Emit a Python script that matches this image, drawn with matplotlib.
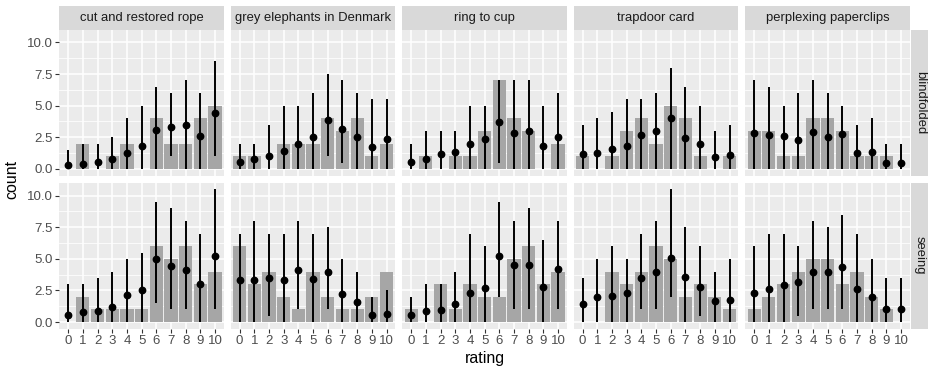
import matplotlib
matplotlib.use("Agg")
import matplotlib.pyplot as plt
import numpy as np

plt.rcParams["font.family"] = ["Liberation Sans", "DejaVu Sans"]

# ---------------------------------------------------------------------------
# Données
# ---------------------------------------------------------------------------
tricks = ["cut and restored rope", "grey elephants in Denmark", "ring to cup",
          "trapdoor card", "perplexing paperclips"]
conditions = ["blindfolded", "seeing"]
ratings = list(range(11))

# comptes observés (barres)
count_blind = [
    [0, 2, 0, 1, 2, 0, 4, 2, 2, 4, 5],
    [1, 1, 0, 2, 2, 2, 4, 3, 4, 1, 2],
    [0, 1, 0, 1, 1, 3, 7, 4, 3, 0, 2],
    [1, 0, 1, 3, 4, 2, 5, 4, 1, 0, 1],
    [3, 3, 1, 1, 4, 4, 3, 1, 1, 1, 0],
]
count_seeing = [
    [0, 2, 1, 1, 1, 1, 6, 5, 6, 3, 4],
    [6, 3, 4, 2, 1, 4, 2, 1, 1, 2, 4],
    [1, 0, 3, 1, 3, 2, 2, 5, 6, 3, 4],
    [0, 0, 4, 3, 4, 6, 5, 2, 3, 2, 1],
    [1, 2, 3, 4, 5, 5, 3, 4, 2, 1, 0],
]

# prédictions (points) et intervalles
mean_blind = [
    [0.27, 0.40, 0.53, 0.80, 1.28, 1.82, 3.09, 3.28, 3.44, 2.59, 4.40],
    [0.56, 0.75, 1.01, 1.39, 2.00, 2.53, 3.87, 3.15, 2.56, 1.73, 2.35],
    [0.51, 0.75, 1.17, 1.31, 1.97, 2.40, 3.68, 2.85, 2.96, 1.81, 2.53],
    [1.20, 1.25, 1.55, 1.84, 2.69, 2.99, 4.00, 2.45, 2.00, 0.96, 1.12],
    [2.85, 2.64, 2.59, 2.27, 2.93, 2.51, 2.72, 1.28, 1.33, 0.45, 0.48],
]
lo_blind = [
    [0, 0, 0, 0, 0, 0, 0, 1, 0, 0, 1],
    [0, 0, 0, 0, 0, 0, 1, 0.5, 0, 0, 0],
    [0, 0, 0, 0, 0, 0, 0.5, 0, 0, 0, 0],
    [0, 0, 0, 0, 0, 0, 0, 0, 0, 0, 0],
    [0, 0, 0, 0, 0, 0, 0, 0, 0, 0, 0],
]
hi_blind = [
    [1.5, 2, 2, 2.5, 4, 5, 6.5, 6, 7, 6, 8.5],
    [2, 2, 3.5, 5, 5, 6, 7.5, 7, 6, 5.5, 5.5],
    [2, 3, 3, 3, 5, 5, 7, 7, 7, 5, 6],
    [3.5, 4, 4.5, 5.5, 5.5, 6, 8, 6.5, 5, 3, 3.5],
    [7, 6.5, 5, 6, 7, 6, 5, 3.5, 4, 2, 2],
]
mean_seeing = [
    [0.56, 0.82, 0.88, 1.19, 2.18, 2.57, 4.99, 4.43, 4.11, 3.00, 5.20],
    [3.32, 3.36, 3.50, 3.35, 4.14, 3.42, 3.93, 2.20, 1.59, 0.55, 0.62],
    [0.53, 0.88, 0.93, 1.46, 2.31, 2.68, 5.25, 4.51, 4.51, 2.76, 4.16],
    [1.41, 2.02, 2.10, 2.31, 3.45, 4.00, 5.10, 3.53, 2.79, 1.65, 1.73],
    [2.31, 2.60, 2.90, 3.16, 3.95, 3.95, 4.38, 2.65, 1.96, 1.06, 1.06],
]
lo_seeing = [
    [0, 0, 0, 0, 0, 0, 1.5, 1, 1, 0, 1],
    [0, 0, 0.5, 0, 1, 0, 1, 0, 0, 0, 0],
    [0, 0, 0, 0, 0, 0, 2, 1, 1, 0, 1],
    [0, 0, 0, 0, 1, 1, 2, 0, 0.5, 0, 0],
    [0, 0, 0, 0.5, 1, 1, 1, 0, 0, 0, 0],
]
hi_seeing = [
    [3, 3, 3.5, 4, 5, 5.5, 9.5, 9, 8, 7, 10.5],
    [7, 8, 7, 7, 8, 7, 7.5, 5, 4, 2, 2.5],
    [2, 3, 3, 4, 7, 6, 9.5, 8, 9, 6.5, 8],
    [3.5, 5, 6, 5, 7, 8, 10.5, 7.5, 6, 4, 5],
    [6, 7, 7, 6, 8, 7.5, 8.5, 7, 5, 3.5, 3.5],
]

# ---------------------------------------------------------------------------
# Mise en page (pixels -> fraction de figure)
# ---------------------------------------------------------------------------
W, H = 929, 369
PANEL_X0, PANEL_W, GAP_X = 59.3, 164.6, 6.9
ROW_Y = [29.5, 182.7]
PANEL_H = 146.0
STRIP_H = 24.0
STRIP_W = 19.0

PANEL_BG = "#EBEBEB"
STRIP_BG = "#D9D9D9"
BAR_COL = "#A6A6A6"
TXT = "#1A1A1A"
TICK_TXT = "#4D4D4D"


def frac(x, y, w, h):
    return [x / W, 1 - (y + h) / H, w / W, h / H]


ymax = max(max(max(r) for r in hi_blind), max(max(r) for r in hi_seeing))
ylim = (-0.05 * ymax, ymax * 1.05)

fig = plt.figure(figsize=(W / 100, H / 100), dpi=100)

data = {
    "blindfolded": (count_blind, mean_blind, lo_blind, hi_blind),
    "seeing": (count_seeing, mean_seeing, lo_seeing, hi_seeing),
}

for r, cond in enumerate(conditions):
    counts, means, los, his = data[cond]
    for c, trick in enumerate(tricks):
        x0 = PANEL_X0 + c * (PANEL_W + GAP_X)
        ax = fig.add_axes(frac(x0, ROW_Y[r], PANEL_W, PANEL_H))
        ax.set_facecolor(PANEL_BG)
        for s in ax.spines.values():
            s.set_visible(False)

        ax.set_xlim(-0.6, 10.6)
        ax.set_ylim(*ylim)
        ax.set_xticks(ratings)
        ax.set_yticks([0, 2.5, 5, 7.5, 10])
        ax.set_yticks([1.25, 3.75, 6.25, 8.75], minor=True)
        ax.grid(True, which="major", color="white", linewidth=1.1)
        ax.grid(True, which="minor", axis="y", color="white", linewidth=0.55)
        ax.set_axisbelow(True)
        ax.tick_params(which="minor", length=0)
        ax.tick_params(which="major", length=3, width=0.8, color="#333333",
                       labelsize=9.5, labelcolor=TICK_TXT, pad=1.5)

        if r == len(conditions) - 1:
            ax.set_xticklabels([str(v) for v in ratings])
        else:
            ax.tick_params(axis="x", length=0, labelbottom=False)
        if c == 0:
            ax.set_yticklabels(["0.0", "2.5", "5.0", "7.5", "10.0"])
        else:
            ax.tick_params(axis="y", length=0, labelleft=False)

        ax.bar(ratings, counts[c], width=0.9, color=BAR_COL, zorder=2)
        ax.vlines(ratings, los[c], his[c], color="black", linewidth=1.4, zorder=3)
        ax.plot(ratings, means[c], "o", color="black", markersize=4.6, zorder=4)

        # bandeau du haut
        if r == 0:
            sax = fig.add_axes(frac(x0, ROW_Y[0] - STRIP_H, PANEL_W, STRIP_H))
            sax.set_facecolor(STRIP_BG)
            sax.set_xticks([])
            sax.set_yticks([])
            for s in sax.spines.values():
                s.set_visible(False)
            sax.text(0.5, 0.5, trick, ha="center", va="center",
                     fontsize=9.4, color=TXT, transform=sax.transAxes)

    # bandeau de droite
    x_end = PANEL_X0 + 5 * PANEL_W + 4 * GAP_X
    rax = fig.add_axes(frac(x_end + 0.7, ROW_Y[r], STRIP_W, PANEL_H))
    rax.set_facecolor(STRIP_BG)
    rax.set_xticks([])
    rax.set_yticks([])
    for s in rax.spines.values():
        s.set_visible(False)
    rax.text(0.5, 0.5, cond, ha="center", va="center", rotation=-90,
             fontsize=9.4, color=TXT, transform=rax.transAxes)

# titres des axes
mid_x = (PANEL_X0 + (PANEL_X0 + 5 * PANEL_W + 4 * GAP_X)) / 2
fig.text(mid_x / W, 1 - 358 / H, "rating", ha="center", va="center",
         fontsize=11.5, color="black")
mid_y = (ROW_Y[0] + ROW_Y[1] + PANEL_H) / 2
fig.text(12 / W, 1 - mid_y / H, "count", ha="center", va="center",
         rotation=90, fontsize=11.5, color="black")

fig.savefig("out.png", dpi=100)
